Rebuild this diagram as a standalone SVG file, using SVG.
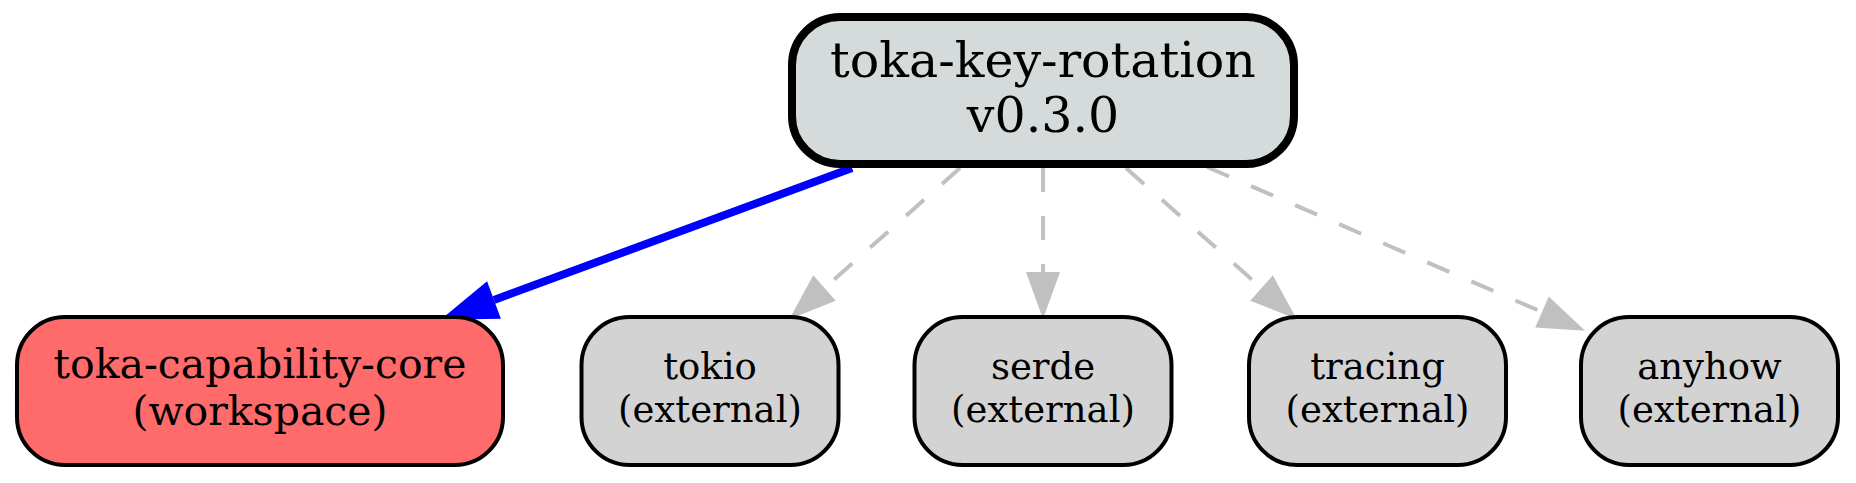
<svg xmlns="http://www.w3.org/2000/svg" width="1856" height="483" viewBox="0 0 1856 483">
<style>
text{font-family:"DejaVu Serif","Liberation Serif",serif;text-anchor:middle;fill:#000}
.top{font-size:49px}
.ws{font-size:41px}
.ext{font-size:37px}
.nrect{stroke:#000;stroke-width:4}
.dep{fill:none;stroke:#c0c0c0;stroke-width:4;stroke-dasharray:24,24}
.main{fill:none;stroke:#0000ff;stroke-width:8}
</style>
<defs>
<marker id="ag" markerUnits="userSpaceOnUse" viewBox="0 -20 60 40" markerWidth="60" markerHeight="40" refX="0" refY="0" orient="auto" overflow="visible">
<path d="M0,-17 L47,0 L0,17 z" fill="#c0c0c0"/>
</marker>
<marker id="ab" markerUnits="userSpaceOnUse" viewBox="0 -24 70 48" markerWidth="70" markerHeight="48" refX="0" refY="0" orient="auto" overflow="visible">
<path d="M0,-20 L57,0 L0,20 z" fill="#0000ff"/>
</marker>
</defs>
<rect width="1856" height="483" fill="#fff"/>
<g id="edges">
<path class="main" d="M852,168 L494,300" marker-end="url(#ab)"/>
<path class="dep" d="M960,168 L824.5,288" marker-end="url(#ag)"/>
<path class="dep" d="M1043,168 L1043,272" marker-end="url(#ag)"/>
<path class="dep" d="M1126,168 L1261.5,288" marker-end="url(#ag)"/>
<path class="dep" d="M1207,167 L1542,312" marker-end="url(#ag)"/>
</g>
<g id="node-toka-key-rotation">
<rect x="792" y="17" width="502" height="147" rx="48" ry="48" fill="#d5dbdb" stroke="#000" stroke-width="8"/>
<text class="top" x="1043" y="77">toka-key-rotation</text>
<text class="top" x="1043" y="132">v0.3.0</text>
</g>
<g id="node-toka-capability-core">
<rect class="nrect" x="17" y="317" width="486" height="148" rx="48" ry="48" fill="#ff6b6b"/>
<text class="ws" x="260" y="378">toka-capability-core</text>
<text class="ws" x="260" y="425">(workspace)</text>
</g>
<g id="node-tokio">
<rect class="nrect" x="581.5" y="317" width="257" height="148" rx="48" ry="48" fill="#d3d3d3"/>
<text class="ext" x="710" y="379">tokio</text>
<text class="ext" x="710" y="422">(external)</text>
</g>
<g id="node-serde">
<rect class="nrect" x="914.5" y="317" width="257" height="148" rx="48" ry="48" fill="#d3d3d3"/>
<text class="ext" x="1043" y="379">serde</text>
<text class="ext" x="1043" y="422">(external)</text>
</g>
<g id="node-tracing">
<rect class="nrect" x="1249" y="317" width="257" height="148" rx="48" ry="48" fill="#d3d3d3"/>
<text class="ext" x="1377.5" y="379">tracing</text>
<text class="ext" x="1377.5" y="422">(external)</text>
</g>
<g id="node-anyhow">
<rect class="nrect" x="1581" y="317" width="257" height="148" rx="48" ry="48" fill="#d3d3d3"/>
<text class="ext" x="1709.5" y="379">anyhow</text>
<text class="ext" x="1709.5" y="422">(external)</text>
</g>
</svg>
